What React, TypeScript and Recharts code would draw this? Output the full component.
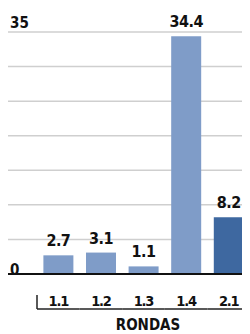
import { BarChart, Bar, XAxis, YAxis, CartesianGrid, ReferenceLine, LabelList, Label, Cell } from 'recharts';

const rondas = ['1.1', '1.2', '1.3', '1.4', '2.1'];
const valores = [2.7, 3.1, 1.1, 34.4, 8.2];
const yTicks = [0, 5, 10, 15, 20, 25, 30, 35];
const yMin = 0;
const yMax = 35;

const data = rondas.map((ronda, i) => ({ ronda, valor: valores[i] }));

const CHART_W = 242;
const PAD_LEFT = 29;
const BAND = (CHART_W - PAD_LEFT) / rondas.length;

const font = "'DejaVu Sans Condensed', sans-serif";

const RondaTick = ({ x, y, payload, index }: any) => (
  <g>
    <text
      x={x}
      y={y + 32}
      textAnchor="middle"
      fill="#111"
      fontSize={14.5}
      fontWeight="bold"
      letterSpacing={-1.2}
      fontFamily={font}
    >
      {payload.value}
    </text>
    <line x1={x - BAND / 2} x2={x + BAND / 2} y1={y + 35} y2={y + 35} stroke="#222" strokeWidth={1.5} />
    {index === 0 && (
      <line x1={x - BAND / 2} x2={x - BAND / 2} y1={y + 21} y2={y + 35} stroke="#222" strokeWidth={1.5} />
    )}
  </g>
);

export default function App() {
  return (
    <div style={{ width: CHART_W, height: 326, background: '#fff' }}>
      <BarChart
        width={CHART_W}
        height={326}
        data={data}
        margin={{ top: 24, right: 0, left: 0, bottom: 0 }}
        barCategoryGap="15%"
      >
        <CartesianGrid horizontal vertical={false} stroke="#cfcfcf" strokeWidth={1.5} />
        <XAxis
          dataKey="ronda"
          padding={{ left: PAD_LEFT, right: 0 }}
          height={60}
          axisLine={false}
          tickLine={false}
          tickSize={0}
          tickMargin={0}
          interval={0}
          tick={<RondaTick />}
        >
          <Label
            value="RONDAS"
            position="insideBottom"
            offset={4}
            dx={19}
            fill="#111"
            fontSize={15}
            fontWeight="bold"
            fontFamily={font}
          />
        </XAxis>
        <YAxis domain={[yMin, yMax]} ticks={yTicks} hide />
        <ReferenceLine y={yMax} stroke="none" ifOverflow="extendDomain">
          <Label
            value={String(yMax)}
            position="insideBottomLeft"
            offset={4}
            dx={-2}
            fill="#111"
            fontSize={15}
            fontWeight="bold"
            fontFamily={font}
          />
        </ReferenceLine>
        <ReferenceLine y={yMin} stroke="#111" strokeWidth={2}>
          <Label
            value={String(yMin)}
            position="insideBottomLeft"
            offset={-1}
            dx={3}
            fill="#111"
            fontSize={15}
            fontWeight="bold"
            fontFamily={font}
          />
        </ReferenceLine>
        <Bar dataKey="valor" isAnimationActive={false}>
          {data.map((d) => (
            <Cell key={d.ronda} fill={d.ronda.startsWith('2') ? '#3e68a0' : '#7f9cc8'} />
          ))}
          <LabelList
            dataKey="valor"
            position="top"
            offset={9}
            fill="#111"
            fontSize={16}
            fontWeight="bold"
            letterSpacing={-0.5}
            fontFamily={font}
          />
        </Bar>
      </BarChart>
    </div>
  );
}
